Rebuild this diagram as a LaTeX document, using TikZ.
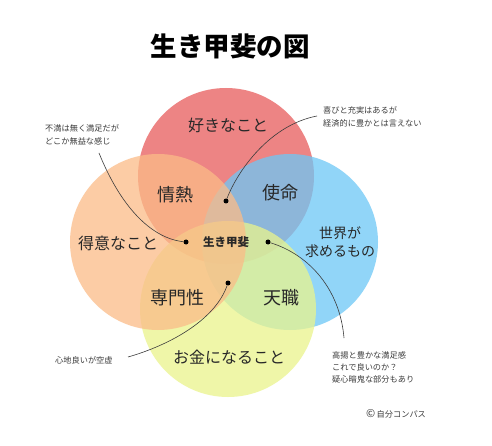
\documentclass[tikz,border=0pt]{standalone}
\usepackage{fontspec}
\setmainfont{Noto Sans CJK JP}
\definecolor{cRed}{RGB}{232,92,91}
\definecolor{cOrange}{RGB}{251,188,136}
\definecolor{cBlue}{RGB}{109,199,246}
\definecolor{cYellow}{RGB}{234,244,140}
\definecolor{txt}{RGB}{40,40,40}
\definecolor{notec}{RGB}{60,60,60}
\begin{document}
\begin{tikzpicture}[x=1pt,y=-1pt,
  lab/.style={text=txt, inner sep=0pt},
  big/.style={lab, font=\fontsize{18}{18}\selectfont},
  mid/.style={lab, font=\fontsize{16}{16}\selectfont},
  note/.style={text=notec, font=\fontsize{8.2}{13}\selectfont, align=left, inner sep=0pt, anchor=west},
  dotn/.style={circle, fill=black, inner sep=0pt, minimum size=5pt},
  lead/.style={draw=notec, line width=0.6pt},
  disc/.style={fill opacity=0.75}]
\useasboundingbox[fill=white] (0,0) rectangle (492,446);
% circles
\fill[cRed, disc] (226,176) circle[radius=88pt];
\fill[cBlue, disc] (290,242) circle[radius=88pt];
\fill[cYellow, disc] (228,309) circle[radius=88pt];
\fill[cOrange, disc] (158,242) circle[radius=88pt];
% title
\node[lab, text=black, font=\fontsize{26.5}{26}\selectfont\bfseries] (title) at (230,46) {生き甲斐の図};
% labels
\node[mid] (love) at (228,125) {好きなこと};
\node[mid] (good) at (118,243) {得意なこと};
\node[mid] (paid) at (229,357) {お金になること};
\node[lab, font=\fontsize{14}{18}\selectfont, align=center] (need) at (340,242) {世界が\\求めるもの};
\node[big] (passion) at (175,195) {情熱};
\node[big] (mission) at (280,193) {使命};
\node[big] (prof) at (177,298) {専門性};
\node[big] (voc) at (281,298) {天職};
\node[lab, font=\fontsize{11.5}{12}\selectfont\bfseries] (ikigai) at (226,242) {生き甲斐};
% notes
\node[note] (n1) at (45,135) {不満は無く満足だが\\どこか無益な感じ};
\node[note] (n2) at (323,116.5) {喜びと充実はあるが\\経済的に豊かとは言えない};
\node[note] (n3) at (55,360) {心地良いが空虚};
\node[note, font=\fontsize{8.2}{12}\selectfont] (n4) at (332,367) {高揚と豊かな満足感\\これで良いのか？\\疑心暗鬼な部分もあり};
\node[note] (copy) at (366,414) {{\fontsize{11}{11}\selectfont ©}\,自分コンパス};
% dots
\node[dotn] (d1) at (186,242) {};
\node[dotn] (d2) at (226,201) {};
\node[dotn] (d3) at (268,242) {};
\node[dotn] (d4) at (228,283) {};
% lead ends
\coordinate (e1) at (99,153);
\coordinate (e2) at (317,116);
\coordinate (e3) at (344,338);
\coordinate (e4) at (128,357);
\draw[lead] (e1) .. controls (120,205) and (150,238) .. (d1);
\draw[lead] (d2) .. controls (238,170) and (270,125) .. (e2);
\draw[lead] (d3) .. controls (310,255) and (340,290) .. (e3);
\draw[lead] (d4) .. controls (215,320) and (170,345) .. (e4);
\end{tikzpicture}
\end{document}
